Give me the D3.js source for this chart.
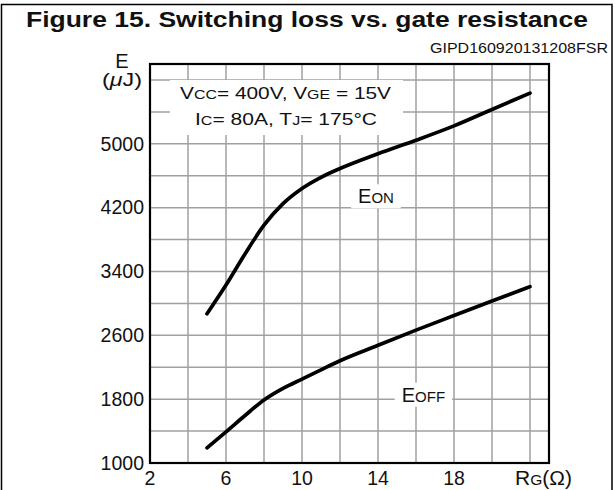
<!DOCTYPE html>
<html>
<head>
<meta charset="utf-8">
<script src="https://cdn.jsdelivr.net/npm/d3@7"></script>
<style>
body { margin: 0; background: #fff; }
text { font-family: "Liberation Sans", Arial, sans-serif; fill: #111; }
</style>
</head>
<body>
<svg id="chart" width="615" height="490"></svg>
<script>
// values
var rgOn = [5, 6, 7, 8, 9, 10, 11, 12, 14, 16, 18, 20, 22]
var eOn = [2870, 3230, 3620, 3980, 4250, 4440, 4580, 4690, 4875, 5045, 5225, 5430, 5635]

var rgOff = [5, 6, 7, 8, 9, 10, 11, 12, 14, 16, 18, 20, 22]
var eOff = [1190, 1390, 1595, 1790, 1935, 2052, 2168, 2282, 2475, 2665, 2848, 3030, 3210]

var xTicks = [2, 6, 10, 14, 18]
var yTicks = [1000, 1800, 2600, 3400, 4200, 5000]

// where the curve names sit (data units)
var labelNames = [["E", "ON"], ["E", "OFF"]]
var labelRg = [12.95, 15.25]
var labelE = [4254, 1768]

var svg = d3.select("#chart")

var x = d3.scaleLinear()
    .domain([2, 23])
    .range([150, 549])

var y = d3.scaleLinear()
    .domain([1000, 6000])
    .range([463, 64])

// outer frame of the figure
svg.append("path")
    .attr("d", "M1.5,490V4.5H612V490")
    .attr("fill", "none")
    .attr("stroke", "#000")
    .attr("stroke-width", 1.5)

svg.append("text")
    .attr("x", 26).attr("y", 27)
    .attr("textLength", 562)
    .attr("lengthAdjust", "spacingAndGlyphs")
    .style("font-size", "22.5px")
    .style("font-weight", "bold")
    .text("Figure 15. Switching loss vs. gate resistance")

svg.append("text")
    .attr("x", 430).attr("y", 53)
    .attr("textLength", 178)
    .attr("lengthAdjust", "spacingAndGlyphs")
    .style("font-size", "15px")
    .text("GIPD160920131208FSR")

// grid
var grid = svg.append("g")
    .attr("stroke", "#a0a0a0")
    .attr("stroke-width", 1.5)

grid.selectAll(".gx")
    .data(d3.range(4, 23, 2))
    .enter().append("line")
    .attr("x1", d => x(d)).attr("x2", d => x(d))
    .attr("y1", y(1000)).attr("y2", y(6000))

grid.selectAll(".gy")
    .data(d3.range(1400, 6000, 400))
    .enter().append("line")
    .attr("x1", x(2)).attr("x2", x(23))
    .attr("y1", d => y(d)).attr("y2", d => y(d))

// white patch behind the test conditions
svg.append("rect")
    .attr("x", 170).attr("y", 80)
    .attr("width", 233).attr("height", 55)
    .attr("fill", "#fff")

var leg = svg.append("g").style("font-size", "17px")

var l1 = leg.append("text").attr("x", 180).attr("y", 99)
    .attr("textLength", 211).attr("lengthAdjust", "spacingAndGlyphs")
l1.append("tspan").text("V")
l1.append("tspan").style("font-size", "13px").text("CC")
l1.append("tspan").text("= 400V, V")
l1.append("tspan").style("font-size", "13px").text("GE")
l1.append("tspan").text(" = 15V")

var l2 = leg.append("text").attr("x", 195).attr("y", 125)
    .attr("textLength", 182).attr("lengthAdjust", "spacingAndGlyphs")
l2.append("tspan").text("I")
l2.append("tspan").style("font-size", "13px").text("C")
l2.append("tspan").text("= 80A, T")
l2.append("tspan").style("font-size", "13px").text("J")
l2.append("tspan").text("= 175°C")

// curves
var line = d3.line()
    .x(d => x(d[0]))
    .y(d => y(d[1]))
    .curve(d3.curveMonotoneX)

var curves = [d3.zip(rgOn, eOn), d3.zip(rgOff, eOff)]

svg.selectAll(".curve")
    .data(curves)
    .enter().append("path")
    .attr("class", "curve")
    .attr("d", line)
    .attr("fill", "none")
    .attr("stroke", "#000")
    .attr("stroke-width", 3.7)
    .attr("stroke-linecap", "round")

// curve labels
labelNames.forEach(function(n, i) {
    var g = svg.append("g")
    var bg = g.append("rect").attr("fill", "#fff")
    var t = g.append("text")
        .attr("x", x(labelRg[i]))
        .attr("y", y(labelE[i]))
        .style("font-size", "20px")
    t.append("tspan").text(n[0])
    t.append("tspan").style("font-size", "15px").text(n[1])
    var b = t.node().getBBox()
    bg.attr("x", b.x - 7).attr("y", b.y - 1)
      .attr("width", b.width + 14).attr("height", b.height + 2)
})

// frame of the plot
svg.append("rect")
    .attr("x", x(2)).attr("y", y(6000))
    .attr("width", x(23) - x(2))
    .attr("height", y(1000) - y(6000))
    .attr("fill", "none")
    .attr("stroke", "#000")
    .attr("stroke-width", 2.2)

// axes labels
svg.selectAll(".ytick")
    .data(yTicks)
    .enter().append("text")
    .attr("x", 144)
    .attr("y", d => y(d))
    .attr("dy", "0.35em")
    .attr("text-anchor", "end")
    .style("font-size", "19.5px")
    .text(d => d)

svg.selectAll(".xtick")
    .data(xTicks)
    .enter().append("text")
    .attr("x", d => x(d))
    .attr("y", 485)
    .attr("text-anchor", "middle")
    .style("font-size", "19.5px")
    .text(d => d)

var xl = svg.append("text")
    .attr("x", 515).attr("y", 485)
    .attr("textLength", 57).attr("lengthAdjust", "spacingAndGlyphs")
    .style("font-size", "19.5px")
xl.append("tspan").text("R")
xl.append("tspan").style("font-size", "14.5px").text("G")
xl.append("tspan").text("(Ω)")

svg.append("text")
    .attr("x", 122).attr("y", 68)
    .attr("text-anchor", "middle")
    .style("font-size", "20px")
    .text("E")

var yl = svg.append("text")
    .attr("x", 102).attr("y", 86)
    .attr("textLength", 40).attr("lengthAdjust", "spacingAndGlyphs")
    .style("font-size", "19px")
yl.append("tspan").text("(")
yl.append("tspan").style("font-style", "italic").text("μ")
yl.append("tspan").text("J)")
</script>
</body>
</html>
